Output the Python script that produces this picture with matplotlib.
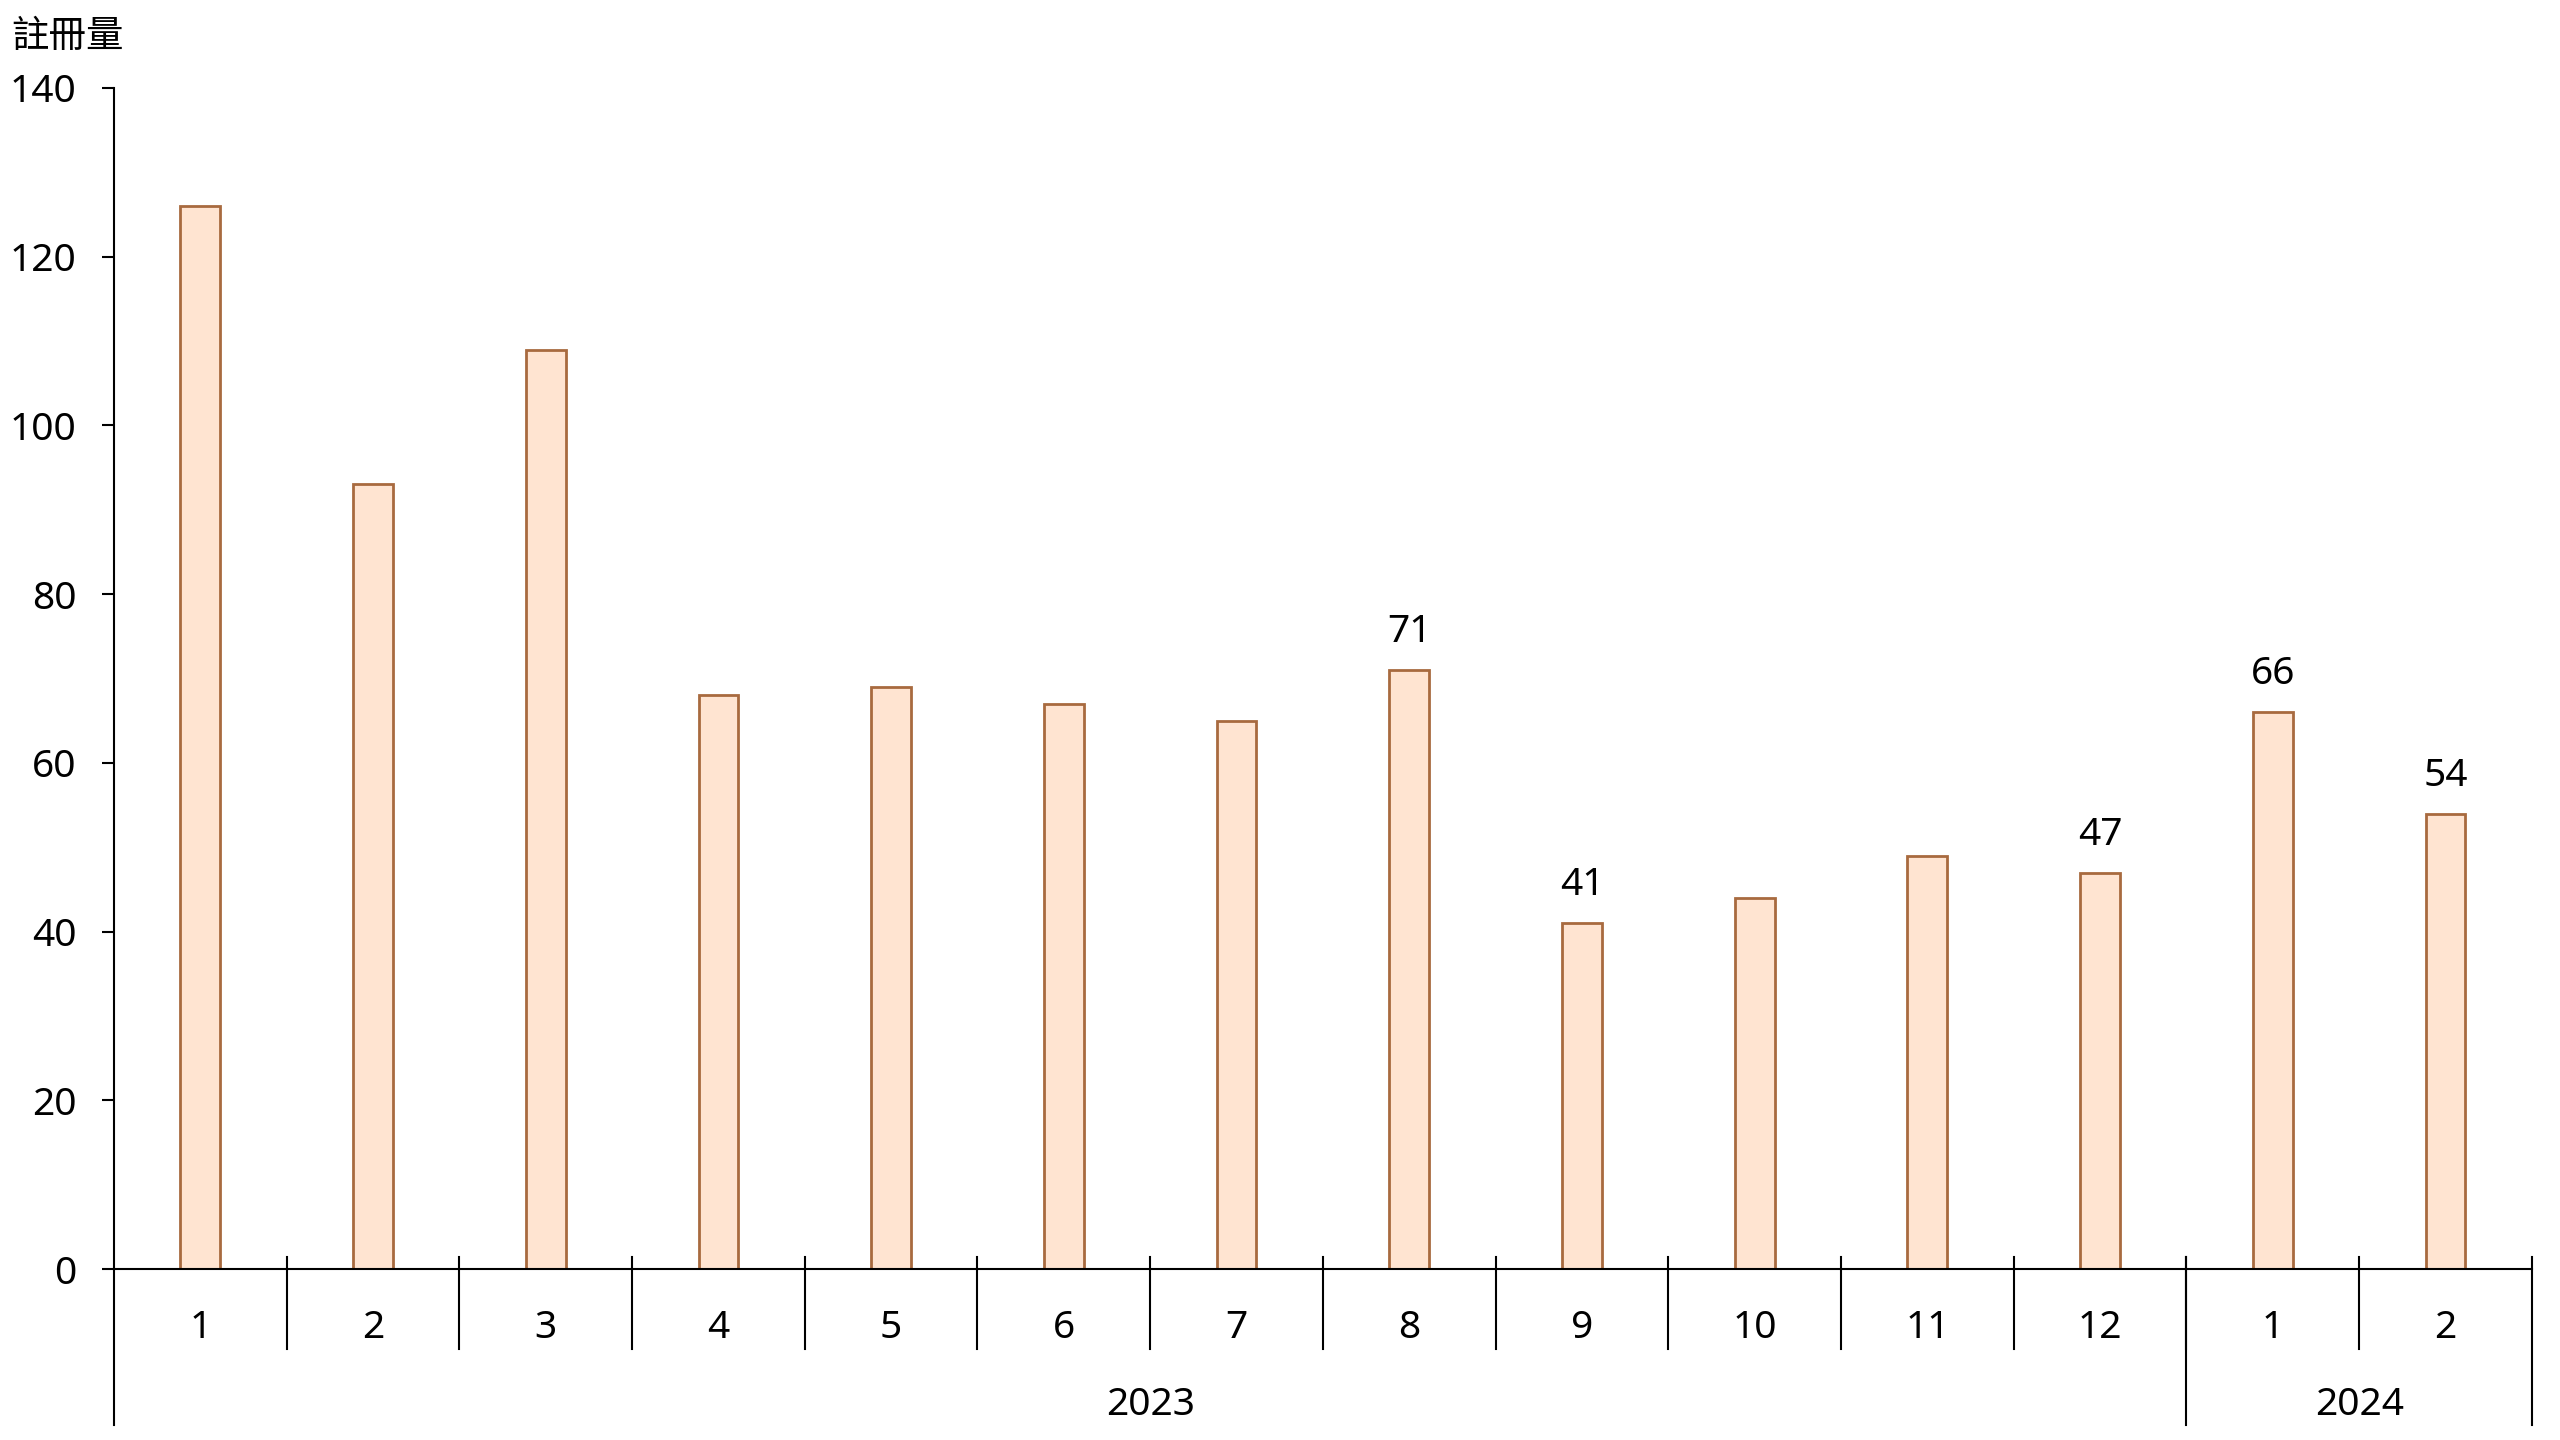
import matplotlib
matplotlib.use("Agg")
import matplotlib.pyplot as plt
import matplotlib.transforms as mtransforms

plt.rcParams['font.family'] = ['Noto Sans', 'Noto Sans CJK TC', 'DejaVu Sans']

months = ["1", "2", "3", "4", "5", "6", "7", "8", "9", "10", "11", "12", "1", "2"]
years = ["2023", "2024"]
months_per_year = [12, 2]
values = [126, 93, 109, 68, 69, 67, 65, 71, 41, 44, 49, 47, 66, 54]
labelled = [7, 8, 11, 12, 13]  # bars with value labels

fs = 28
fig = plt.figure(figsize=(25.6, 14.4), dpi=100)
ax = fig.add_axes([0.0445, 0.1187, 0.9445, 0.8202])

x = [i + 0.5 for i in range(len(values))]
ax.bar(x, values, width=0.23, color="#FFE4D1", edgecolor="#A86A3F", linewidth=2)

for i in labelled:
    ax.annotate(str(values[i]), (x[i], values[i]), xytext=(0, 38), textcoords="offset pixels",
                ha="center", va="center", fontsize=fs)

ax.set_xlim(0, len(values))
ax.set_ylim(0, 140)
ax.set_yticks(range(0, 141, 20))
ax.set_xticks([])
ax.tick_params(axis="y", length=9, width=1.5, pad=18, labelsize=fs)
for s in ["top", "right"]:
    ax.spines[s].set_visible(False)
ax.spines["left"].set_linewidth(1.5)
ax.spines["bottom"].set_linewidth(1.5)

trans = mtransforms.blended_transform_factory(ax.transData, ax.transAxes)
h = 1181.0
# month separators
for b in range(1, len(values)):
    ax.plot([b, b], [12 / h, -80 / h], transform=trans, color="black", lw=1.5, clip_on=False)
# year separators
edges = [0]
for n in months_per_year:
    edges.append(edges[-1] + n)
for e in edges:
    ax.plot([e, e], [12 / h if e else 0, -156 / h], transform=trans, color="black", lw=1.5, clip_on=False)

for xi, m in zip(x, months):
    ax.text(xi, -59 / h, m, transform=trans, ha="center", va="center", fontsize=fs)
for k, yr in enumerate(years):
    ax.text((edges[k] + edges[k + 1]) / 2, -136 / h, yr, transform=trans,
            ha="center", va="center", fontsize=fs)

fig.text(11 / 2560, 1 - 36 / 1440, "註冊量", ha="left", va="center", fontsize=27,
         family=['Noto Sans CJK TC', 'DejaVu Sans'], fontweight="medium")

fig.savefig("out.png", dpi=100)
